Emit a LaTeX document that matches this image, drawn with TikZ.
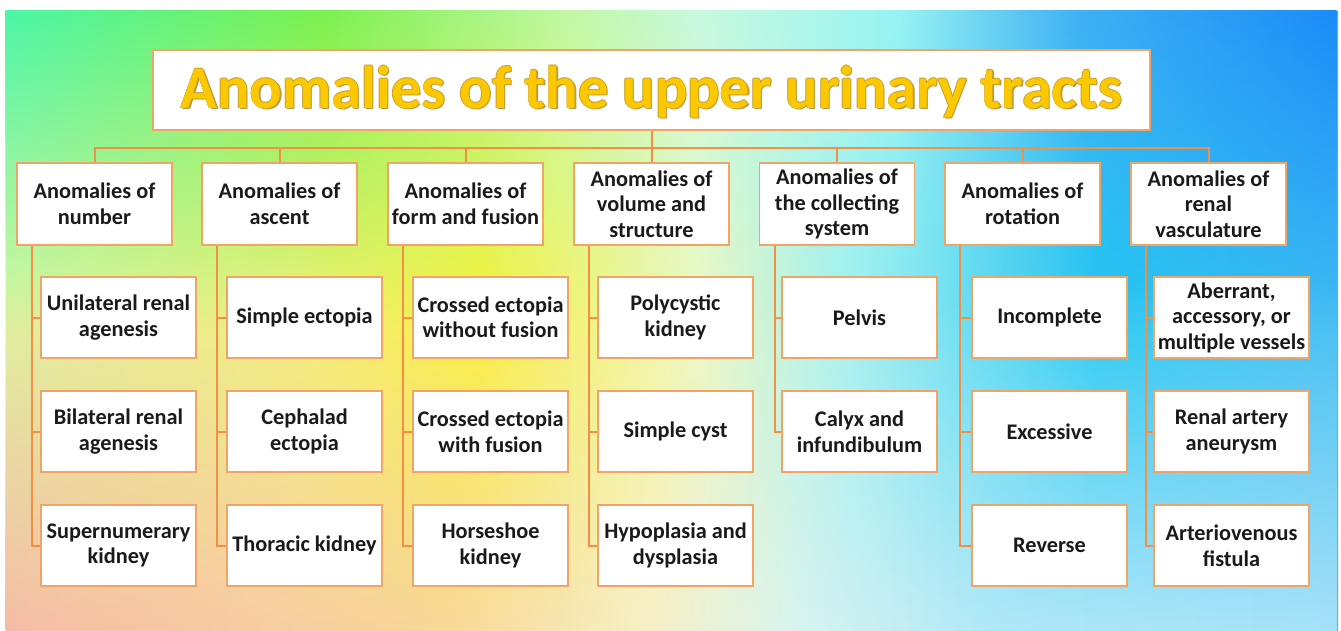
\documentclass[tikz,border=0pt]{standalone}
\usepackage{fontspec}
\setmainfont{Carlito}
\usetikzlibrary{fadings}

% background colours
\definecolor{m0}{HTML}{DDF5A0}
\definecolor{m1}{HTML}{F2F27A}
\definecolor{m2}{HTML}{FAF23A}
\definecolor{m3}{HTML}{EEF8C0}
\definecolor{m4}{HTML}{A0F0F0}
\definecolor{m5}{HTML}{22C8F2}
\definecolor{m6}{HTML}{40BCF2}
\definecolor{t0}{HTML}{4CF5A8}
\definecolor{t1}{HTML}{7CF050}
\definecolor{t2}{HTML}{C0F8A0}
\definecolor{t3}{HTML}{C8FAE0}
\definecolor{t4}{HTML}{98F4F4}
\definecolor{t5}{HTML}{40B0F4}
\definecolor{t6}{HTML}{1A8CF8}
\definecolor{u0}{HTML}{F6BCA6}
\definecolor{u1}{HTML}{F8CCA4}
\definecolor{u2}{HTML}{F8D898}
\definecolor{u3}{HTML}{F8F0C8}
\definecolor{u4}{HTML}{D8F4F0}
\definecolor{u5}{HTML}{B0E8F8}
\definecolor{u6}{HTML}{A6E2F8}

\definecolor{boxedge}{HTML}{F2A466}
\definecolor{connc}{HTML}{F39047}
\definecolor{txt}{HTML}{1A1A1A}
\definecolor{tgold}{HTML}{FCC800}
\definecolor{tedge}{HTML}{C8A030}
\definecolor{tshadow}{HTML}{B89850}

\pgfdeclarehorizontalshading{midband}{100bp}{color(0bp)=(m0); color(25bp)=(m0); color(36bp)=(m1); color(42.8bp)=(m2); color(51bp)=(m3); color(56.7bp)=(m4); color(66bp)=(m5); color(75bp)=(m6); color(100bp)=(m6)}
\pgfdeclarehorizontalshading{topband}{100bp}{color(0bp)=(t0); color(25bp)=(t0); color(37bp)=(t1); color(45.8bp)=(t2); color(51bp)=(t3); color(58.5bp)=(t4); color(65.3bp)=(t5); color(75bp)=(t6); color(100bp)=(t6)}
\pgfdeclarehorizontalshading{botband}{100bp}{color(0bp)=(u0); color(25bp)=(u0); color(34.2bp)=(u1); color(41.7bp)=(u2); color(49.2bp)=(u3); color(54.8bp)=(u4); color(62.3bp)=(u5); color(75bp)=(u6); color(100bp)=(u6)}

\tikzfading[name=fadetop, top color=transparent!0, middle color=transparent!45, bottom color=transparent!100]
\tikzfading[name=fadebot, top color=transparent!100, middle color=transparent!40, bottom color=transparent!0]

\newcommand\goldtext[1]{\leavevmode
  \rlap{\color{tshadow}\hspace{1.2pt}\raisebox{-1.2pt}{#1}}%
  \rlap{\color{tedge}\hspace{-0.6pt}#1}%
  \rlap{\color{tedge}\hspace{0.6pt}#1}%
  \rlap{\color{tedge}\raisebox{0.6pt}{#1}}%
  \rlap{\color{tedge}\raisebox{-0.6pt}{#1}}%
  {\color{tgold}#1}}

\tikzset{
  box/.style={draw=boxedge, line width=1.3pt, fill=white, minimum width=155pt,
    minimum height=81pt, inner sep=0pt, align=center, text=txt,
    font=\fontsize{22.3}{25.5}\selectfont\bfseries},
  headbox/.style={box, minimum height=82pt},
  titlebox/.style={draw=boxedge, line width=1.3pt, fill=white, minimum width=997pt,
    minimum height=80pt, inner sep=0pt, text height=46pt, text depth=10pt,
    font=\fontsize{60.5}{70}\selectfont\bfseries},
  conn/.style={draw=connc, line width=2pt},
}

\begin{document}
\begin{tikzpicture}[x=1pt,y=-1pt]
\useasboundingbox (0,0) rectangle (1341,630);
\fill[white] (0,0) rectangle (1341,630);
% background
\shade[shading=midband] (6,11) rectangle (1338,630);
\shade[shading=topband, path fading=fadetop] (6,11) rectangle (1338,330);
\shade[shading=botband, path fading=fadebot] (6,280) rectangle (1338,630);

% title
\node[titlebox] (title) at (651.5,90) {\goldtext{Anomalies of the upper urinary tracts}};

% level 1
\node[headbox] (a1) at (94.5,204)  {Anomalies of\\number};
\node[headbox] (a2) at (279.5,204) {Anomalies of\\ascent};
\node[headbox] (a3) at (465.5,204) {Anomalies of\\form and fusion};
\node[headbox] (a4) at (651.5,204) {Anomalies of\\volume and\\structure};
\node[headbox] (a5) at (837,204)   {Anomalies of\\the collecting\\system};
\node[headbox] (a6) at (1022.5,204){Anomalies of\\rotation};
\node[headbox] (a7) at (1208.5,204){Anomalies of\\renal\\vasculature};

% children
\node[box] (b11) at (118.5,317.5) {Unilateral renal\\agenesis};
\node[box] (b12) at (118.5,431.5) {Bilateral renal\\agenesis};
\node[box] (b13) at (118.5,545.5) {Supernumerary\\kidney};

\node[box] (b21) at (304.5,317.5) {Simple ectopia};
\node[box] (b22) at (304.5,431.5) {Cephalad\\ectopia};
\node[box] (b23) at (304.5,545.5) {Thoracic kidney};

\node[box] (b31) at (490.5,317.5) {Crossed ectopia\\without fusion};
\node[box] (b32) at (490.5,431.5) {Crossed ectopia\\with fusion};
\node[box] (b33) at (490.5,545.5) {Horseshoe\\kidney};

\node[box] (b41) at (675.5,317.5) {Polycystic\\kidney};
\node[box] (b42) at (675.5,431.5) {Simple cyst};
\node[box] (b43) at (675.5,545.5) {Hypoplasia and\\dysplasia};

\node[box] (b51) at (859.5,317.5) {Pelvis};
\node[box] (b52) at (859.5,431.5) {Calyx and\\infundibulum};

\node[box] (b61) at (1049.5,317.5) {Incomplete};
\node[box] (b62) at (1049.5,431.5) {Excessive};
\node[box] (b63) at (1049.5,545.5) {Reverse};

\node[box] (b71) at (1231.5,317.5) {Aberrant,\\accessory, or\\multiple vessels};
\node[box] (b72) at (1231.5,431.5) {Renal artery\\aneurysm};
\node[box] (b73) at (1231.5,545.5) {Arteriovenous\\fistula};

% connectors
\foreach \i in {1,...,7}
  \draw[conn] (title.south) -- ++(0,17) -| (a\i.north);
\foreach \i/\n in {1/3,2/3,3/3,4/3,5/2,6/3,7/3}
  \foreach \j in {1,...,\n}
    \draw[conn] (a\i.south west) ++(16,0) |- (b\i\j.west);
\end{tikzpicture}
\end{document}
